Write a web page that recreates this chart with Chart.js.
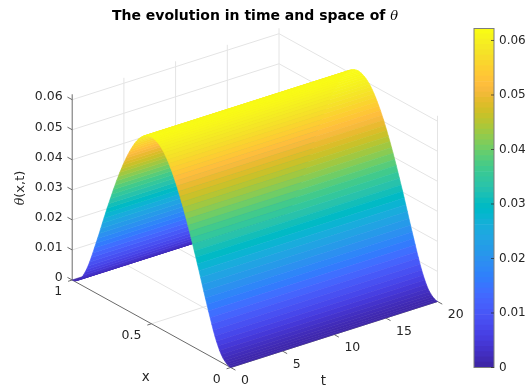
<!DOCTYPE html>
<html>
<head>
<meta charset="utf-8">
<title>The evolution in time and space of θ</title>
<script src="https://cdn.jsdelivr.net/npm/chart.js@4"></script>
<style>
    html, body { margin: 0; padding: 0; background: #fff; }
    #wrap { position: relative; width: 527px; height: 389px; overflow: hidden; }
    canvas { position: absolute; top: 0; filter: blur(0.3px); }
    #surfaceChart { left: 0; }
    #colorbarChart { left: 470px; }
</style>
</head>
<body>
<div id="wrap">
    <canvas id="surfaceChart" width="527" height="389"></canvas>
    <canvas id="colorbarChart" width="57" height="389"></canvas>
</div>
<script>
// values
const xValues = [0, 0.01, 0.02, 0.03, 0.04, 0.05, 0.06, 0.07, 0.08, 0.09, 0.1, 0.11, 0.12, 0.13, 0.14, 0.15, 0.16,
    0.17, 0.18, 0.19, 0.2, 0.21, 0.22, 0.23, 0.24, 0.25, 0.26, 0.27, 0.28, 0.29, 0.3, 0.31, 0.32, 0.33, 0.34, 0.35,
    0.36, 0.37, 0.38, 0.39, 0.4, 0.41, 0.42, 0.43, 0.44, 0.45, 0.46, 0.47, 0.48, 0.49, 0.5, 0.51, 0.52, 0.53, 0.54,
    0.55, 0.56, 0.57, 0.58, 0.59, 0.6, 0.61, 0.62, 0.63, 0.64, 0.65, 0.66, 0.67, 0.68, 0.69, 0.7, 0.71, 0.72, 0.73,
    0.74, 0.75, 0.76, 0.77, 0.78, 0.79, 0.8, 0.81, 0.82, 0.83, 0.84, 0.85, 0.86, 0.87, 0.88, 0.89, 0.9, 0.91, 0.92,
    0.93, 0.94, 0.95, 0.96, 0.97, 0.98, 0.99, 1];
const thetaValues = [0, 0.0001, 0.0003, 0.0007, 0.0012, 0.0018, 0.0026, 0.0036, 0.0048, 0.0061, 0.0076, 0.0092,
    0.011, 0.0128, 0.0147, 0.0166, 0.0185, 0.0204, 0.0224, 0.0244, 0.0264, 0.0283, 0.0303, 0.0321, 0.034, 0.0358,
    0.0377, 0.0394, 0.0412, 0.0428, 0.0445, 0.046, 0.0476, 0.049, 0.0505, 0.0518, 0.0531, 0.0543, 0.0554, 0.0565,
    0.0575, 0.0584, 0.0592, 0.0599, 0.0605, 0.061, 0.0614, 0.0617, 0.062, 0.0621, 0.0622,
    0.0621, 0.062, 0.0617, 0.0614, 0.061, 0.0605, 0.0599, 0.0592, 0.0584, 0.0575, 0.0565, 0.0554, 0.0543, 0.0531,
    0.0518, 0.0505, 0.049, 0.0476, 0.046, 0.0445, 0.0428, 0.0412, 0.0394, 0.0377, 0.0358, 0.034, 0.0321, 0.0303,
    0.0283, 0.0264, 0.0244, 0.0224, 0.0204, 0.0185, 0.0166, 0.0147, 0.0128, 0.011, 0.0092, 0.0076, 0.0061, 0.0048,
    0.0036, 0.0026, 0.0018, 0.0012, 0.0007, 0.0003, 0.0001, 0];
const tRange = [0, 20];
const xTicks = [0, 0.5, 1];
const tTicks = [0, 5, 10, 15, 20];
const zTicks = [0, 0.01, 0.02, 0.03, 0.04, 0.05, 0.06];
const zLabels = ['0', '0.01', '0.02', '0.03', '0.04', '0.05', '0.06'];
const zMax = 0.0622;

const parula = [
    [0.2422,0.1504,0.6603],[0.2504,0.1650,0.7076],[0.2578,0.1818,0.7511],[0.2647,0.1978,0.7952],
    [0.2706,0.2147,0.8364],[0.2751,0.2342,0.8710],[0.2783,0.2559,0.8991],[0.2803,0.2782,0.9221],
    [0.2813,0.3006,0.9414],[0.2810,0.3228,0.9579],[0.2795,0.3447,0.9717],[0.2760,0.3667,0.9829],
    [0.2699,0.3892,0.9906],[0.2602,0.4123,0.9952],[0.2440,0.4358,0.9988],[0.2206,0.4603,0.9973],
    [0.1963,0.4847,0.9892],[0.1834,0.5074,0.9798],[0.1786,0.5289,0.9682],[0.1764,0.5499,0.9520],
    [0.1687,0.5703,0.9359],[0.1540,0.5902,0.9218],[0.1460,0.6091,0.9079],[0.1380,0.6276,0.8973],
    [0.1248,0.6459,0.8883],[0.1113,0.6635,0.8763],[0.0952,0.6798,0.8598],[0.0689,0.6948,0.8394],
    [0.0297,0.7082,0.8163],[0.0036,0.7203,0.7917],[0.0067,0.7312,0.7660],[0.0433,0.7411,0.7394],
    [0.0964,0.7500,0.7120],[0.1408,0.7584,0.6842],[0.1717,0.7670,0.6554],[0.1938,0.7758,0.6251],
    [0.2161,0.7843,0.5923],[0.2470,0.7918,0.5567],[0.2906,0.7973,0.5188],[0.3406,0.8008,0.4789],
    [0.3909,0.8029,0.4354],[0.4456,0.8024,0.3909],[0.5044,0.7993,0.3480],[0.5616,0.7942,0.3045],
    [0.6174,0.7876,0.2612],[0.6720,0.7793,0.2227],[0.7242,0.7698,0.1910],[0.7738,0.7598,0.1646],
    [0.8203,0.7498,0.1535],[0.8634,0.7406,0.1596],[0.9035,0.7330,0.1774],[0.9393,0.7288,0.2100],
    [0.9728,0.7298,0.2394],[0.9956,0.7434,0.2371],[0.9970,0.7659,0.2199],[0.9952,0.7893,0.2028],
    [0.9892,0.8136,0.1885],[0.9786,0.8386,0.1766],[0.9676,0.8639,0.1643],[0.9610,0.8890,0.1537],
    [0.9597,0.9135,0.1423],[0.9628,0.9373,0.1265],[0.9691,0.9606,0.1064],[0.9769,0.9839,0.0805]
];

const TEXT_COLOR = '#262626';
const AXIS_COLOR = '#6a6a6a';
const GRID_COLOR = '#e4e4e4';
const FONT = '"DejaVu Sans", sans-serif';

function toCss(c) {
    return `rgb(${Math.round(c[0] * 255)},${Math.round(c[1] * 255)},${Math.round(c[2] * 255)})`;
}

// blend between neighbouring colormap entries so the stripes stay faint
function thetaColor(v) {
    const pos = Math.min(parula.length - 1.001, v / zMax * (parula.length - 1));
    const i = Math.floor(pos);
    const f = pos - i;
    return toCss(parula[i].map((c, k) => c + (parula[i + 1][k] - c) * f));
}

// orthographic view of the 3D box onto the flat scales of the chart (y counts up from the bottom)
function project(x, t, z) {
    return {
        x: 230.7 - 158.5 * x + 10.34 * t,
        y: 21.5 + 87.5 * x + 3.3 * t + 3005 * z
    };
}

function segment(a, b, color, width) {
    return {
        data: [project(a[0], a[1], a[2]), project(b[0], b[1], b[2])],
        borderColor: color,
        borderWidth: width,
        pointRadius: 0,
        fill: false,
        tension: 0
    };
}

// chart draws the last dataset first, so x = 0 (closest to the viewer) goes first
const surfaceDatasets = [];
for (let i = 0; i < xValues.length - 1; i++) {
    const color = thetaColor((thetaValues[i] + thetaValues[i + 1]) / 2);
    surfaceDatasets.push({
        data: [
            project(xValues[i], tRange[0], thetaValues[i]),
            project(xValues[i], tRange[1], thetaValues[i]),
            project(xValues[i + 1], tRange[1], thetaValues[i + 1]),
            project(xValues[i + 1], tRange[0], thetaValues[i + 1]),
            project(xValues[i], tRange[0], thetaValues[i])
        ],
        borderColor: color,
        borderWidth: 0.6,
        backgroundColor: color,
        polygon: true,
        pointRadius: 0,
        fill: false,
        tension: 0
    });
}

const boxDatasets = [];
const zTop = 0.0618;
// axis lines and tick marks
boxDatasets.push(segment([1, 0, 0], [1, 0, zTop], AXIS_COLOR, 1));
boxDatasets.push(segment([0, 0, 0], [1, 0, 0], AXIS_COLOR, 1));
boxDatasets.push(segment([0, 0, 0], [0, 20, 0], AXIS_COLOR, 1));
zTicks.forEach(z => boxDatasets.push(segment([1, 0, z], [1.03, 0, z], AXIS_COLOR, 1)));
xTicks.forEach(x => boxDatasets.push(segment([x, 0, 0], [x, -0.4, 0], AXIS_COLOR, 1)));
tTicks.forEach(t => boxDatasets.push(segment([0, t, 0], [-0.03, t, 0], AXIS_COLOR, 1)));
// grid on the floor and on the two back walls
zTicks.forEach(z => {
    boxDatasets.push(segment([1, 0, z], [1, 20, z], GRID_COLOR, 1));
    boxDatasets.push(segment([1, 20, z], [0, 20, z], GRID_COLOR, 1));
});
tTicks.slice(1).forEach(t => {
    boxDatasets.push(segment([1, t, 0], [1, t, zTop], GRID_COLOR, 1));
    boxDatasets.push(segment([0, t, 0], [1, t, 0], GRID_COLOR, 1));
});
xTicks.slice(0, 2).forEach(x => {
    boxDatasets.push(segment([x, 20, 0], [x, 20, zTop], GRID_COLOR, 1));
    boxDatasets.push(segment([x, 0, 0], [x, 20, 0], GRID_COLOR, 1));
});

function drawRuns(ctx, runs, px, py, angle) {
    ctx.save();
    ctx.translate(px, py);
    ctx.rotate(angle);
    ctx.textBaseline = 'middle';
    ctx.textAlign = 'left';
    let w = 0;
    runs.forEach(r => { ctx.font = r.font; w += ctx.measureText(r.text).width; });
    let pos = -w / 2;
    runs.forEach(r => {
        ctx.font = r.font;
        ctx.fillStyle = r.color;
        ctx.fillText(r.text, pos, 0);
        pos += ctx.measureText(r.text).width;
    });
    ctx.restore();
}

const surfacePlugin = {
    id: 'surfacePolygons',
    beforeDatasetDraw(chart, args) {
        const ds = chart.data.datasets[args.index];
        if (!ds.polygon) return;
        const pts = args.meta.data;
        const ctx = chart.ctx;
        ctx.beginPath();
        pts.forEach((p, i) => { if (i === 0) ctx.moveTo(p.x, p.y); else ctx.lineTo(p.x, p.y); });
        ctx.closePath();
        ctx.fillStyle = ds.backgroundColor;
        ctx.fill();
    }
};

const labelsPlugin = {
    id: 'boxLabels',
    afterDraw(chart) {
        const ctx = chart.ctx;
        const sx = chart.scales.x;
        const sy = chart.scales.y;
        const put = (p, text, align, dx, dy) => {
            ctx.textAlign = align;
            ctx.fillText(text, sx.getPixelForValue(p.x) + dx, sy.getPixelForValue(p.y) + dy);
        };
        ctx.save();
        ctx.font = '12.5px ' + FONT;
        ctx.fillStyle = TEXT_COLOR;
        ctx.textBaseline = 'middle';
        zTicks.forEach((z, i) => put(project(1, 0, z), zLabels[i], 'right', -9.5, -2.5));
        xTicks.forEach(x => put(project(x, 0, 0), String(x), 'right', -10, 12));
        tTicks.forEach(t => put(project(0, t, 0), String(t), 'left', 10.3, 13.5));
        ctx.textAlign = 'center';
        ctx.font = '13.5px ' + FONT;
        ctx.fillText('x', 145.7, 377);
        ctx.fillText('t', 323.3, 381);
        ctx.restore();
        drawRuns(ctx, [
            { text: 'The evolution in time and space of ', font: 'bold 14px ' + FONT, color: '#000' },
            { text: 'θ', font: 'italic 13px "DejaVu Serif", serif', color: '#000' }
        ], 255, 16.5, 0);
        drawRuns(ctx, [
            { text: 'θ', font: 'italic 12.5px "DejaVu Serif", serif', color: TEXT_COLOR },
            { text: '(x,t)', font: '13px ' + FONT, color: TEXT_COLOR }
        ], 21, 188, -Math.PI / 2);
    }
};

new Chart(document.getElementById('surfaceChart').getContext('2d'), {
    type: 'line',
    data: { datasets: surfaceDatasets.concat(boxDatasets) },
    options: {
        responsive: false,
        animation: false,
        events: [],
        parsing: false,
        normalized: false,
        clip: false,
        layout: { padding: 0 },
        scales: {
            x: { type: 'linear', display: false, min: 0, max: 527 },
            y: { type: 'linear', display: false, min: 0, max: 389 }
        },
        plugins: { legend: { display: false }, tooltip: { enabled: false } }
    },
    plugins: [surfacePlugin, labelsPlugin]
});

// colorbar: one stacked column of colormap cells on a real value axis
const colorbarPlugin = {
    id: 'colorbarFrame',
    afterDraw(chart) {
        const ctx = chart.ctx;
        const area = chart.chartArea;
        const y = chart.scales.y;
        ctx.save();
        ctx.strokeStyle = '#7d7d7d';
        ctx.lineWidth = 1;
        ctx.strokeRect(area.left, area.top, area.right - area.left, area.bottom - area.top);
        ctx.strokeStyle = 'rgba(38,38,38,0.7)';
        zTicks.forEach(z => {
            const py = y.getPixelForValue(z);
            ctx.beginPath();
            ctx.moveTo(area.right - 3, py);
            ctx.lineTo(area.right, py);
            ctx.stroke();
        });
        ctx.restore();
    }
};

new Chart(document.getElementById('colorbarChart').getContext('2d'), {
    type: 'bar',
    data: {
        labels: ['theta'],
        datasets: parula.map(c => ({
            data: [zMax / parula.length],
            backgroundColor: toCss(c),
            barPercentage: 1,
            categoryPercentage: 1,
            borderWidth: 0
        }))
    },
    options: {
        responsive: false,
        animation: false,
        events: [],
        layout: { padding: { left: 4, top: 28.5, bottom: 21.5, right: 0 } },
        scales: {
            x: { stacked: true, display: false },
            y: {
                stacked: true,
                position: 'right',
                min: 0,
                max: zMax,
                afterFit: s => { s.width = 33; },
                grid: { display: false, drawTicks: false, tickLength: 0 },
                border: { display: false },
                ticks: {
                    stepSize: 0.01,
                    includeBounds: false,
                    padding: 5,
                    color: TEXT_COLOR,
                    font: { size: 12, family: FONT },
                    callback: v => (v === 0 ? '0' : v.toFixed(2))
                }
            }
        },
        plugins: { legend: { display: false }, tooltip: { enabled: false } }
    },
    plugins: [colorbarPlugin]
});
</script>
</body>
</html>
